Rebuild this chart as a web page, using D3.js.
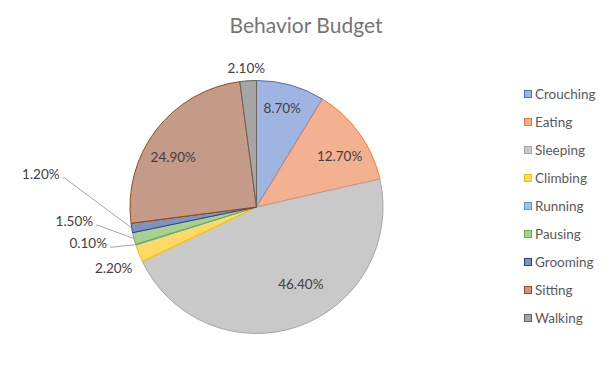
<!DOCTYPE html>
<html>
<head>
<meta charset="utf-8">
<script src="https://cdn.jsdelivr.net/npm/d3@7"></script>
<style>
  html, body { margin: 0; padding: 0; background: #fff; }
  svg { display: block; }
  text { font-family: Lato, "Open Sans", sans-serif; }
</style>
</head>
<body>
<svg id="chart" width="612" height="371"></svg>
<script>
// ---- data ----
const categories = ["Crouching", "Eating", "Sleeping", "Climbing", "Running", "Pausing", "Grooming", "Sitting", "Walking"];
const values = [8.7, 12.7, 46.4, 2.2, 0.1, 1.5, 1.2, 24.9, 2.1];
const valueLabels = ["8.70%", "12.70%", "46.40%", "2.20%", "0.10%", "1.50%", "1.20%", "24.90%", "2.10%"];
const title = "Behavior Budget";

// ---- styles ----
const fills = ["#a0b4e2", "#f4b191", "#c9c9c9", "#ffd966", "#9dc3e6", "#a9d18e", "#7f92c0", "#c49a89", "#a5a5a5"];
const strokes = ["#4472c4", "#ed7d31", "#a5a5a5", "#ffc000", "#5b9bd5", "#70ad47", "#264478", "#9e480e", "#636363"];

// label layout: inside labels use the centroid (k * r), outside ones a point beyond the rim
const labelLayout = {
  Crouching: { inside: true, k: 0.78, dx: -1, dy: -4 },
  Eating:    { inside: true, k: 0.78, dx: 3, dy: 7 },
  Sleeping:  { inside: true, k: 0.78, dx: 12, dy: -16 },
  Sitting:   { inside: true, k: 0.78, dx: -5, dy: 10 },
  Walking:   { inside: false, k: 1.1, dx: -1, dy: 0, leader: false },
  Grooming:  { inside: false, k: 1.12, dx: -76, dy: -56.5, leader: true },
  Pausing:   { inside: false, k: 1.12, dx: -45, dy: -21, leader: true },
  Running:   { inside: false, k: 1.12, dx: -33, dy: -6, leader: true },
  Climbing:  { inside: false, k: 1.12, dx: -11, dy: 9.5, leader: false }
};

const svg = d3.select("#chart");
const cx = 256.5, cy = 207, r = 126.5;

svg.append("text")
  .attr("x", 306).attr("y", 33)
  .attr("text-anchor", "middle")
  .attr("font-size", 21)
  .attr("fill", "#757575")
  .text(title);

const data = categories.map((c, i) => ({ name: c, value: values[i], label: valueLabels[i], i }));
const pie = d3.pie().value(d => d.value).sort(null);
const arcs = pie(data);
const arcGen = d3.arc().innerRadius(0).outerRadius(r);

const g = svg.append("g").attr("transform", `translate(${cx},${cy})`);

g.selectAll("path.slice")
  .data(arcs)
  .join("path")
  .attr("class", "slice")
  .attr("d", arcGen)
  .attr("fill", d => fills[d.data.i])
  .attr("stroke", d => strokes[d.data.i])
  .attr("stroke-width", 1)
  .attr("stroke-linejoin", "round");

function polar(angle, rad) {
  return [rad * Math.sin(angle), -rad * Math.cos(angle)];
}

const labelG = g.append("g");
arcs.forEach(a => {
  const L = labelLayout[a.data.name];
  const mid = (a.startAngle + a.endAngle) / 2;
  const [px, py] = polar(mid, L.k * r);
  const x = px + L.dx, y = py + L.dy;
  const t = labelG.append("text")
    .attr("x", x).attr("y", y)
    .attr("text-anchor", "middle")
    .attr("dominant-baseline", "central")
    .attr("font-size", 13.5)
    .attr("fill", "#404040")
    .text(a.data.label);
  if (L.leader) {
    const w = t.node().getComputedTextLength();
    const [ex, ey] = polar(mid, r);
    labelG.append("polyline")
      .attr("points", `${x + w / 2 + 3},${y + 4} ${x + w / 2 + 5},${y + 4} ${ex},${ey}`)
      .attr("fill", "none")
      .attr("stroke", "#a6a6a6")
      .attr("stroke-width", 1);
  }
});

// ---- legend ----
const legend = svg.append("g").attr("transform", "translate(524,94)");
const ly = d3.scalePoint().domain(categories).range([0, 224]);
const items = legend.selectAll("g.item").data(data).join("g")
  .attr("class", "item")
  .attr("transform", d => `translate(0,${ly(d.name)})`);
items.append("rect")
  .attr("x", 0.5).attr("y", -3.5).attr("width", 7).attr("height", 7)
  .attr("fill", d => fills[d.i])
  .attr("stroke", d => strokes[d.i])
  .attr("stroke-width", 1);
items.append("text")
  .attr("x", 11).attr("y", 0)
  .attr("dominant-baseline", "central")
  .attr("font-size", 13.5)
  .attr("fill", "#595959")
  .text(d => d.name);
</script>
</body>
</html>
